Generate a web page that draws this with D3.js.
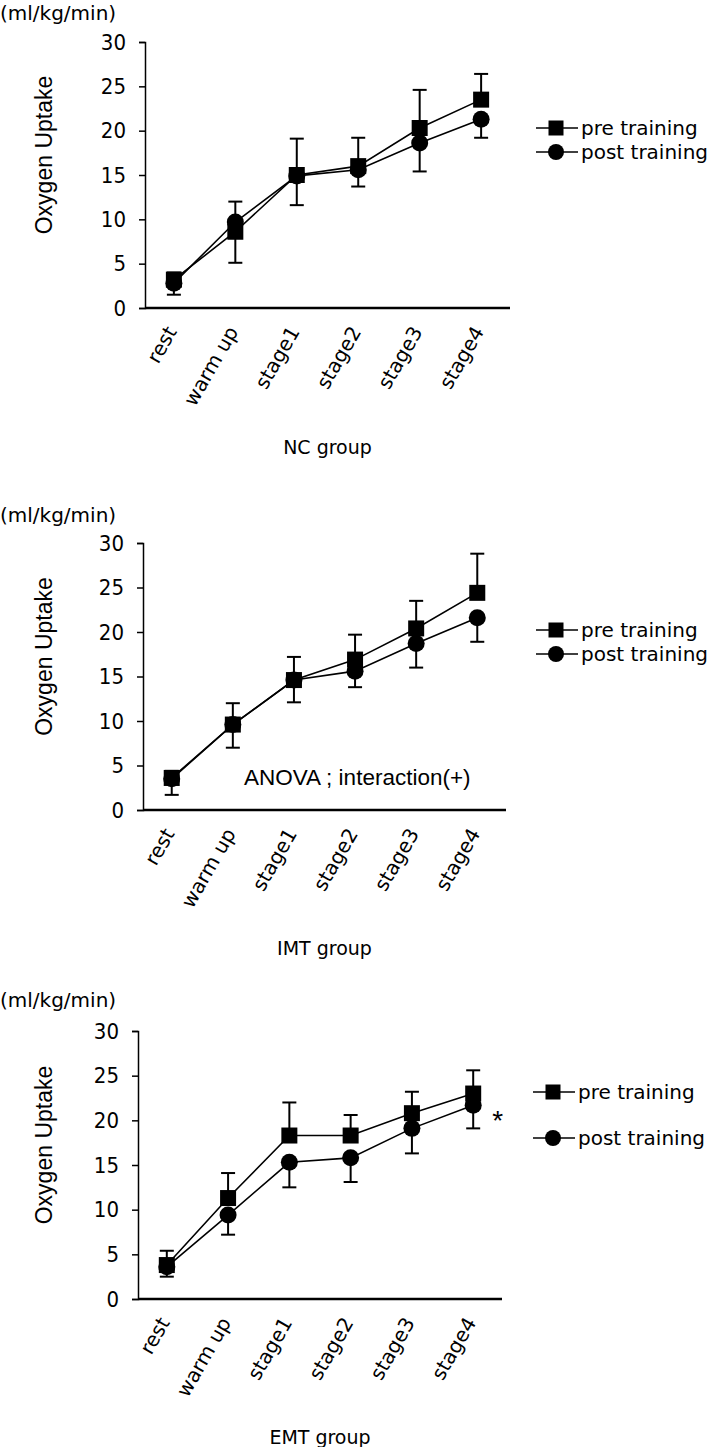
<!DOCTYPE html>
<html>
<head>
<meta charset="utf-8">
<script src="https://cdn.jsdelivr.net/npm/d3@7"></script>
<style>
  body { margin: 0; background: #fff; }
  svg text { fill: #000; }
</style>
</head>
<body>
<div id="chart"></div>
<script>
// 图表数据
const categories = ['rest', 'warm up', 'stage1', 'stage2', 'stage3', 'stage4'];
const seriesNames = ['pre training', 'post training'];
const yTicks = [0, 5, 10, 15, 20, 25, 30];
const groupNames = ['NC group', 'IMT group', 'EMT group'];

// NC group
const ncPre = [3.2, 8.6, 15.0, 16.0, 20.3, 23.5];
const ncPreSD = [0.8, 3.4, 4.1, 3.2, 4.3, 2.9];
const ncPost = [2.8, 9.7, 14.9, 15.6, 18.6, 21.3];
const ncPostSD = [1.3, 4.6, 3.3, 1.9, 3.2, 2.1];

// IMT group
const imtPre = [3.6, 9.6, 14.6, 16.9, 20.4, 24.4];
const imtPreSD = [0.8, 2.4, 2.6, 2.8, 3.1, 4.4];
const imtPost = [3.5, 9.6, 14.6, 15.6, 18.7, 21.6];
const imtPostSD = [1.8, 2.6, 2.5, 1.8, 2.7, 2.7];

// EMT group
const emtPre = [3.8, 11.3, 18.3, 18.3, 20.8, 23.0];
const emtPreSD = [1.6, 2.8, 3.7, 2.3, 2.4, 2.6];
const emtPost = [3.6, 9.4, 15.3, 15.8, 19.1, 21.7];
const emtPostSD = [1.1, 2.2, 2.8, 2.7, 2.8, 2.6];

const W = 711, H = 1447;
const FONT = "'Liberation Sans', Arial, sans-serif";
const GOTHIC = "'DejaVu Sans', sans-serif";
const NARROW = "'DejaVu Sans Condensed', 'Liberation Sans Narrow', sans-serif";

const svg = d3.select('#chart').append('svg')
    .attr('width', W).attr('height', H);

// 三个面板的布局
const panels = [
    { name: groupNames[0], pre: ncPre, preSD: ncPreSD, post: ncPost, postSD: ncPostSD,
      left: 145, right: 510, top: 42, bottom: 308, unitY: 13,
      legY: [128, 152], legX: 536, groupY: 447 },
    { name: groupNames[1], pre: imtPre, preSD: imtPreSD, post: imtPost, postSD: imtPostSD,
      left: 143, right: 506, top: 543, bottom: 810, unitY: 515,
      legY: [630, 654], legX: 536, groupY: 948, note: 'ANOVA ; interaction(+)' },
    { name: groupNames[2], pre: emtPre, preSD: emtPreSD, post: emtPost, postSD: emtPostSD,
      left: 138, right: 502, top: 1031, bottom: 1299, unitY: 1000,
      legY: [1092, 1138], legX: 533, groupY: 1437, star: true }
];

function drawSquare(g, cx, cy, s) {
    g.append('rect')
        .attr('x', cx - s / 2).attr('y', cy - s / 2)
        .attr('width', s).attr('height', s)
        .attr('fill', '#000');
}

function drawCircle(g, cx, cy, r) {
    g.append('circle').attr('cx', cx).attr('cy', cy).attr('r', r).attr('fill', '#000');
}

panels.forEach(p => {
    const g = svg.append('g');

    const x = d3.scalePoint().domain(categories).range([p.left, p.right]).padding(0.47);
    const y = d3.scaleLinear().domain([0, 30]).range([p.bottom, p.top]);

    // 单位
    g.append('text')
        .attr('x', 0).attr('y', p.unitY).attr('dy', '0.35em')
        .attr('font-family', GOTHIC).attr('font-size', '20px')
        .text('(ml/kg/min)');

    // y 轴
    const yAxis = g.append('g')
        .attr('transform', `translate(${p.left},0)`)
        .call(d3.axisLeft(y).tickValues(yTicks).tickSize(6).tickPadding(13));
    yAxis.select('.domain').attr('stroke-width', 1.5);
    yAxis.selectAll('.tick line').attr('stroke-width', 1.5);
    yAxis.selectAll('.tick text')
        .attr('font-family', NARROW)
        .attr('font-size', '22px').attr('fill', '#000');

    // x 轴
    const xAxis = g.append('g')
        .attr('transform', `translate(0,${p.bottom})`)
        .call(d3.axisBottom(x).tickSize(0).tickPadding(0));
    xAxis.select('.domain').attr('d', `M${p.left},0H${p.right}`).attr('stroke-width', 2.5);
    xAxis.selectAll('.tick text')
        .attr('font-family', GOTHIC).attr('font-size', '20px')
        .attr('text-anchor', 'end')
        .attr('dy', '0.35em')
        .attr('transform', 'translate(-3,20) rotate(-60)');

    g.append('text')
        .attr('transform', `translate(44,${(p.top + p.bottom) / 2 - 20}) rotate(-90)`)
        .attr('text-anchor', 'middle').attr('dy', '0.35em')
        .attr('font-family', FONT).attr('font-size', '23px')
        .text('Oxygen Uptake');

    g.append('text')
        .attr('x', (p.left + p.right) / 2).attr('y', p.groupY).attr('dy', '0.35em')
        .attr('text-anchor', 'middle')
        .attr('font-family', GOTHIC).attr('font-size', '19px')
        .text(p.name);

    // 误差线
    const cap = 7;
    const errs = [];
    categories.forEach((c, i) => {
        errs.push({ c, from: p.pre[i], to: p.pre[i] + p.preSD[i] });
        errs.push({ c, from: p.post[i], to: p.post[i] - p.postSD[i] });
    });
    const eg = g.append('g').attr('stroke', '#000').attr('stroke-width', 2);
    errs.forEach(e => {
        eg.append('line')
            .attr('x1', x(e.c)).attr('x2', x(e.c))
            .attr('y1', y(e.from)).attr('y2', y(e.to));
        eg.append('line')
            .attr('x1', x(e.c) - cap).attr('x2', x(e.c) + cap)
            .attr('y1', y(e.to)).attr('y2', y(e.to));
    });

    // 折线
    const line = d3.line().x((d, i) => x(categories[i])).y(d => y(d));
    g.append('path').datum(p.pre).attr('d', line)
        .attr('fill', 'none').attr('stroke', '#000').attr('stroke-width', 1.6);
    g.append('path').datum(p.post).attr('d', line)
        .attr('fill', 'none').attr('stroke', '#000').attr('stroke-width', 1.6);

    // 标记
    p.post.forEach((v, i) => drawCircle(g, x(categories[i]), y(v), 8.5));
    p.pre.forEach((v, i) => drawSquare(g, x(categories[i]), y(v), 16));

    // 图例
    seriesNames.forEach((s, k) => {
        const ly = p.legY[k];
        g.append('line')
            .attr('x1', p.legX).attr('x2', p.legX + 42)
            .attr('y1', ly).attr('y2', ly)
            .attr('stroke', '#000').attr('stroke-width', 1.5);
        if (k === 0) drawSquare(g, p.legX + 20, ly, 15);
        else drawCircle(g, p.legX + 20, ly, 8);
        g.append('text')
            .attr('x', p.legX + 45).attr('y', ly).attr('dy', '0.35em')
            .attr('font-family', GOTHIC).attr('font-size', '20px')
            .text(s);
    });

    if (p.note) {
        g.append('text')
            .attr('x', 244).attr('y', y(3.7)).attr('dy', '0.35em')
            .attr('font-family', FONT).attr('font-size', '22.5px')
            .text(p.note);
    }
    if (p.star) {
        g.append('text')
            .attr('x', x(categories[5]) + 19).attr('y', y(20.0)).attr('dy', '0.35em')
            .attr('font-family', FONT).attr('font-size', '28px')
            .text('*');
    }
});
</script>
</body>
</html>
